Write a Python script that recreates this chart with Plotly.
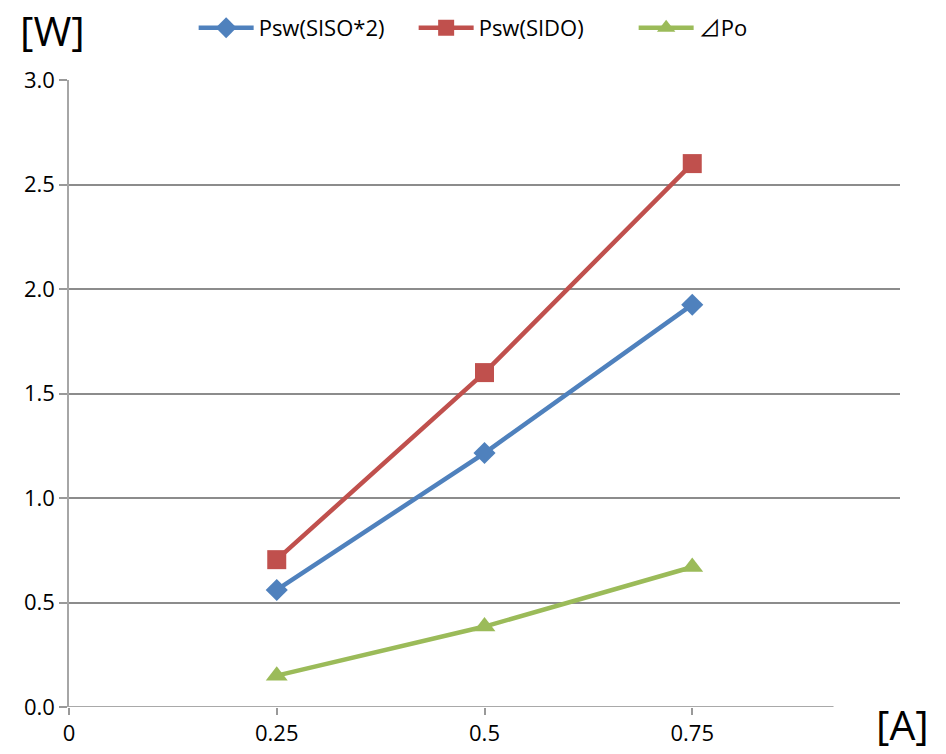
import plotly.graph_objects as go

x_vals = [0.25, 0.5, 0.75]
siso2 = [0.56, 1.215, 1.925]
sido = [0.705, 1.60, 2.60]
dpo = [0.15, 0.385, 0.67]

names = ["Psw(SISO*2)", "Psw(SIDO)",
         "<span style='font-family:Noto Sans CJK JP'>⊿</span>Po"]
colors = ["#4F81BD", "#C0504D", "#9BBB59"]
symbols = ["diamond", "square", "triangle-up"]
sizes = [17, 19, 19]
x_ticks = [0, 0.25, 0.5, 0.75]
x_tick_text = ["0", "0.25", "0.5", "0.75"]
y_ticks = [0, 0.5, 1.0, 1.5, 2.0, 2.5, 3.0]
y_tick_text = ["0.0", "0.5", "1.0", "1.5", "2.0", "2.5", "3.0"]

fig = go.Figure()
for ys, nm, c, s, sz in zip([siso2, sido, dpo], names, colors, symbols, sizes):
    fig.add_trace(go.Scatter(
        x=x_vals, y=ys, name=nm, mode="lines+markers",
        line=dict(color=c, width=4.5),
        marker=dict(symbol=s, size=sz, color=c),
    ))

fig.update_layout(
    width=946, height=754,
    margin=dict(l=69, r=46, t=80, b=47, autoexpand=False),
    paper_bgcolor="white", plot_bgcolor="white",
    font=dict(family="Open Sans", size=22, color="#000"),
    showlegend=True,
    legend=dict(orientation="h", x=0.15, y=1.083, xanchor="left", yanchor="middle",
                font=dict(size=22), itemwidth=55, tracegroupgap=0,
                entrywidth=150, entrywidthmode="pixels",
                bgcolor="rgba(0,0,0,0)"),
    xaxis=dict(range=[0, 1], tickvals=x_ticks, ticktext=x_tick_text,
               showgrid=False, zeroline=False, showline=False, automargin=False,
               ticks="outside", ticklen=7, tickcolor="#999", tickwidth=1.5),
    yaxis=dict(range=[0, 3], tickvals=y_ticks, ticktext=y_tick_text,
               showgrid=True, gridcolor="#8c8c8c", gridwidth=1.5, automargin=False,
               zeroline=False, showline=True, linecolor="#a6a6a6", linewidth=1.5,
               ticks="outside", ticklen=8, tickcolor="#999", tickwidth=1.5),
    annotations=[
        dict(text="[W]", xref="paper", yref="paper", x=-0.061, y=1.1276,
             xanchor="left", yanchor="top", showarrow=False,
             font=dict(size=41, color="#000")),
        dict(text="[A]", xref="paper", yref="paper", x=1.037, y=-0.075,
             xanchor="right", yanchor="bottom", showarrow=False,
             font=dict(size=41, color="#000")),
    ],
    shapes=[dict(type="line", xref="x", yref="y", x0=0, x1=0.92, y0=0, y1=0,
                 line=dict(color="#8c8c8c", width=1.5), layer="below")],
)

fig.write_html("out.html")
